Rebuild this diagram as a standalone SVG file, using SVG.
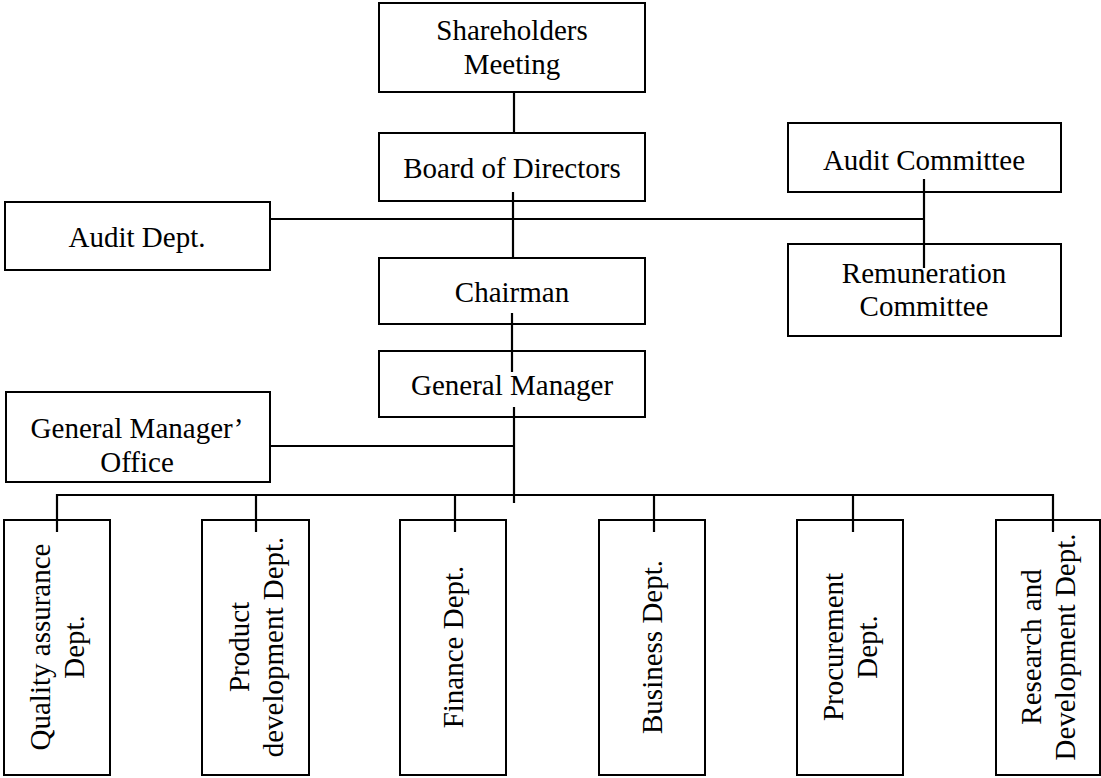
<svg xmlns="http://www.w3.org/2000/svg" width="1101" height="778" viewBox="0 0 1101 778">
<style>
.box{fill:#fff;stroke:#000;stroke-width:2}
.t{font-family:"Liberation Serif","Times New Roman",serif;font-size:29px;fill:#000;text-anchor:middle}
.ln{stroke:#000;stroke-width:2.2;fill:none}
</style>
<rect width="1101" height="778" fill="#fff"/>
<g id="nodes">
<g id="shareholders"><rect class="box" x="379" y="3" width="266" height="89"/><text class="t" x="512" y="40">Shareholders</text><text class="t" x="512" y="74">Meeting</text></g>
<g id="board"><rect class="box" x="379" y="133" width="266" height="68"/><text class="t" x="512" y="178">Board of Directors</text></g>
<g id="auditcommittee"><rect class="box" x="788" y="123" width="273" height="69"/><text class="t" x="924" y="170">Audit Committee</text></g>
<g id="auditdept"><rect class="box" x="5" y="202" width="265" height="68"/><text class="t" x="137" y="247">Audit Dept.</text></g>
<g id="remuneration"><rect class="box" x="788" y="244" width="273" height="92"/><text class="t" x="924" y="283">Remuneration</text><text class="t" x="924" y="316">Committee</text></g>
<g id="chairman"><rect class="box" x="379" y="258" width="266" height="66"/><text class="t" x="512" y="302">Chairman</text></g>
<g id="gm"><rect class="box" x="379" y="351" width="266" height="66"/><text class="t" x="512" y="395">General Manager</text></g>
<g id="gmoffice"><rect class="box" x="6" y="392" width="264" height="90"/><text class="t" x="137" y="438">General Manager’</text><text class="t" x="137" y="472">Office</text></g>
<g id="qa"><rect class="box" x="4" y="520" width="106" height="255"/><text class="t" transform="translate(50,647) rotate(-90)">Quality assurance</text><text class="t" transform="translate(84,647) rotate(-90)">Dept.</text></g>
<g id="pd"><rect class="box" x="202" y="520" width="107" height="255"/><text class="t" transform="translate(249,647) rotate(-90)">Product</text><text class="t" transform="translate(283,647) rotate(-90)">development Dept.</text></g>
<g id="finance"><rect class="box" x="400" y="520" width="106" height="255"/><text class="t" transform="translate(463,647) rotate(-90)">Finance Dept.</text></g>
<g id="business"><rect class="box" x="599" y="520" width="106" height="255"/><text class="t" transform="translate(662,647) rotate(-90)">Business Dept.</text></g>
<g id="procurement"><rect class="box" x="797" y="520" width="106" height="255"/><text class="t" transform="translate(843,647) rotate(-90)">Procurement</text><text class="t" transform="translate(877,647) rotate(-90)">Dept.</text></g>
<g id="rd"><rect class="box" x="996" y="520" width="104" height="255"/><text class="t" transform="translate(1041,647) rotate(-90)">Research and</text><text class="t" transform="translate(1075,647) rotate(-90)">Development Dept.</text></g>
</g>
<g id="connectors">
<path class="ln" d="M514 92V134"/>
<path class="ln" d="M513 192V258"/>
<path class="ln" d="M270 219H924"/>
<path class="ln" d="M924 179V268"/>
<path class="ln" d="M512 313V372"/>
<path class="ln" d="M514 407V503"/>
<path class="ln" d="M270 446H514"/>
<path class="ln" d="M57 532V495H1053V532"/>
<path class="ln" d="M256 495V532"/>
<path class="ln" d="M455 495V532"/>
<path class="ln" d="M654 495V532"/>
<path class="ln" d="M853 495V532"/>
</g>
</svg>
